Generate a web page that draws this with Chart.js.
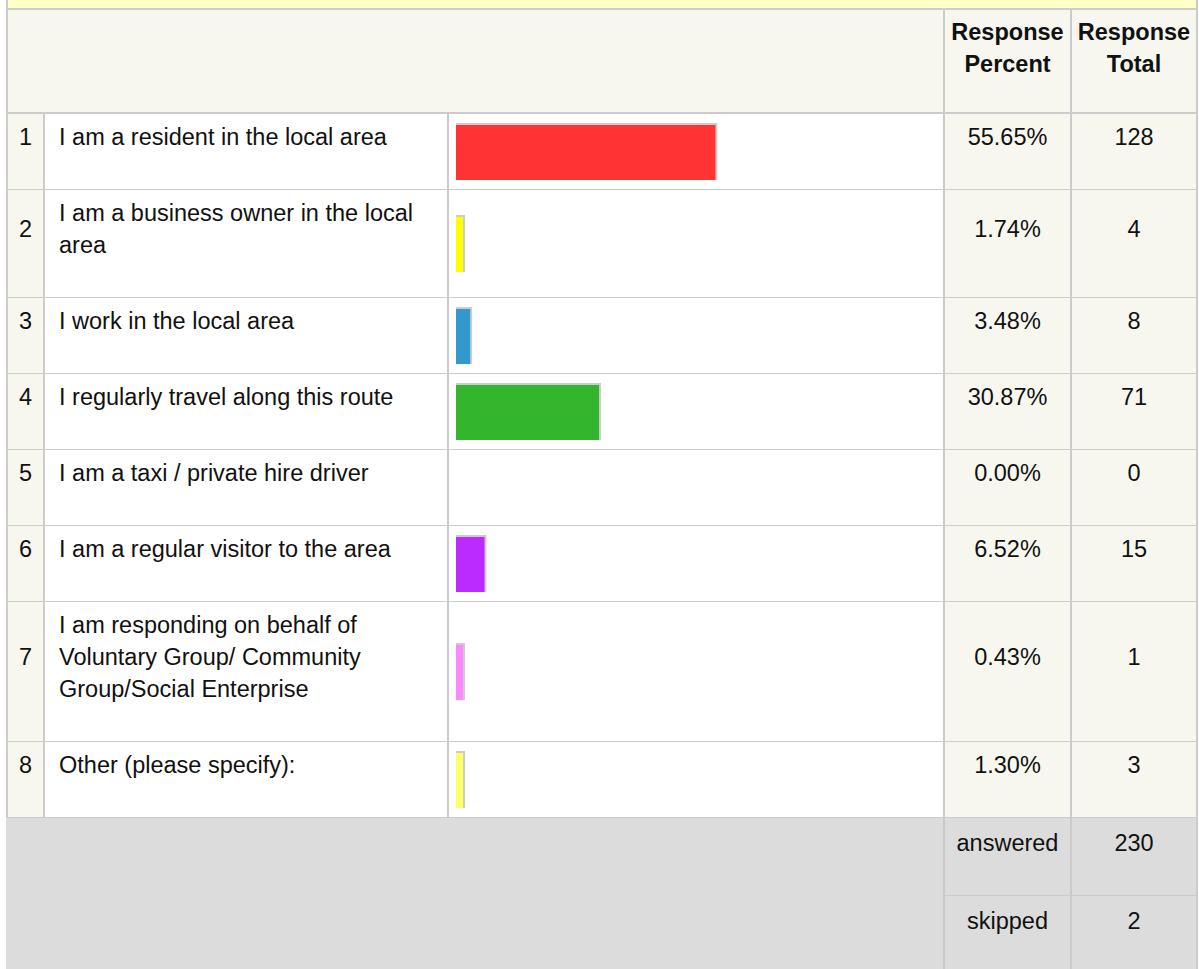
<!DOCTYPE html>
<html lang="en">
<head>
    <meta charset="UTF-8">
    <title>Survey responses</title>
    <script src="https://cdn.jsdelivr.net/npm/chart.js"></script>
    <style>
        body { margin: 0; background: #fff; font-family: "Liberation Sans", Arial, sans-serif; font-size: 23.5px; color: #111; }
        .band { position: absolute; left: 6px; top: 0; width: 1188px; height: 8px; background: #ffffc8; border: 2px solid #cccccc; border-top: 0; }
        table { position: absolute; left: 6px; top: 10px; width: 1192px; border-collapse: separate; border-spacing: 0; table-layout: fixed; }
        td { box-sizing: border-box; line-height: 32px; padding: 7px 6px 36px; vertical-align: middle; text-align: center;
             border-right: 2px solid #cccccc; border-bottom: 1px solid #cccccc; background: #f7f7ef; }
        td.first { border-left: 2px solid #cccccc; }
        tr.head td { font-weight: bold; padding: 6px 4px 32px; border-bottom-width: 2px; }
        td.text { background: #fff; text-align: left; padding-left: 14px; padding-right: 8px; }
        td.bar { background: #fff; position: relative; padding: 0; }
        td.bar div { position: absolute; left: 0; top: 0; right: 0; bottom: 0; }
        tr.foot td { background: #dcdcdc; border-right-color: #cbcbcb; border-bottom-color: #cbcbcb; padding-top: 9px; padding-bottom: 36px; }
        tr.foot td.blank { border-left: 2px solid #dcdcdc; border-bottom: 0; border-right-color: #c8c8c8; }
    </style>
</head>
<body>
    <div class="band"></div>
    <table id="results">
        <colgroup>
            <col style="width:39px"><col style="width:404px"><col style="width:496px"><col style="width:127px"><col style="width:126px">
        </colgroup>
        <tbody id="rows">
            <tr class="head">
                <td class="first" colspan="3"></td>
                <td>Response Percent</td>
                <td>Response Total</td>
            </tr>
        </tbody>
    </table>

    <script>
        const choices = [
            'I am a resident in the local area',
            'I am a business owner in the local area',
            'I work in the local area',
            'I regularly travel along this route',
            'I am a taxi / private hire driver',
            'I am a regular visitor to the area',
            'I am responding on behalf of Voluntary Group/ Community Group/Social Enterprise',
            'Other (please specify):'
        ];
        const percents = [55.65, 1.74, 3.48, 30.87, 0.00, 6.52, 0.43, 1.30];
        const totals = [128, 4, 8, 71, 0, 15, 1, 3];
        const answered = 230;
        const skipped = 2;

        const barColors = ['#ff3333', '#ffff00', '#3399cc', '#33b52e', '#cccccc', '#bb2bff', '#ff88ff', '#ffff66'];

        const tbody = document.getElementById('rows');

        // one row per answer choice, each with its own little bar chart
        choices.forEach(function (label, i) {
            const tr = document.createElement('tr');
            tr.innerHTML =
                '<td class="first">' + (i + 1) + '</td>' +
                '<td class="text"></td>' +
                '<td class="bar"><div><canvas></canvas></div></td>' +
                '<td>' + percents[i].toFixed(2) + '%</td>' +
                '<td>' + totals[i] + '</td>';
            tr.querySelector('.text').textContent = label;
            tbody.appendChild(tr);
        });

        // answered / skipped summary
        const foot1 = document.createElement('tr');
        foot1.className = 'foot';
        foot1.innerHTML = '<td class="blank" colspan="3" rowspan="2"></td><td>answered</td><td>' + answered + '</td>';
        const foot2 = document.createElement('tr');
        foot2.className = 'foot';
        foot2.innerHTML = '<td>skipped</td><td>' + skipped + '</td>';
        tbody.appendChild(foot1);
        tbody.appendChild(foot2);

        const canvases = tbody.querySelectorAll('td.bar canvas');
        canvases.forEach(function (canvas, i) {
            new Chart(canvas, {
                type: 'bar',
                data: {
                    labels: [choices[i]],
                    datasets: [{
                        data: [percents[i]],
                        backgroundColor: barColors[i],
                        borderColor: '#cccccc',
                        borderWidth: { top: 2, right: 2, bottom: 0, left: 0 },
                        borderSkipped: false,
                        inflateAmount: 0,
                        barThickness: 57,
                        minBarLength: percents[i] > 0 ? 9 : 0
                    }]
                },
                options: {
                    indexAxis: 'y',
                    responsive: true,
                    maintainAspectRatio: false,
                    animation: false,
                    events: [],
                    layout: { padding: { left: 7, right: 17, top: 0, bottom: 0 } },
                    plugins: { legend: { display: false }, tooltip: { enabled: false } },
                    scales: {
                        x: { display: false, min: 0, max: 100 },
                        y: { display: false }
                    }
                }
            });
        });
    </script>
</body>
</html>
